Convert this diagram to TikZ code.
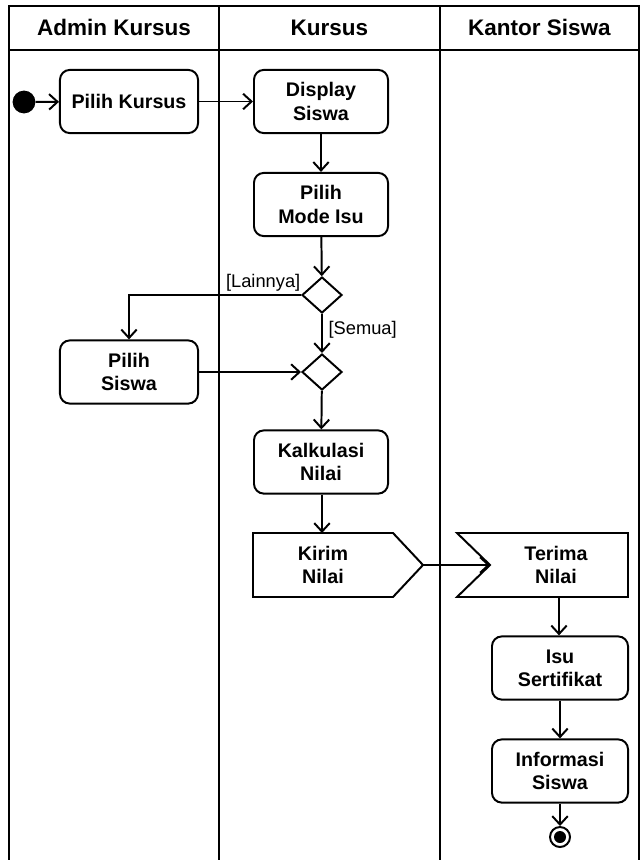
\documentclass[tikz,border=0pt]{standalone}
\usepackage{fontspec}
\setmainfont{Liberation Sans}
\usetikzlibrary{arrows.meta}
\usetikzlibrary{shapes.geometric}

\begin{document}
\begin{tikzpicture}[x=0.025cm, y=-0.025cm,
  lane/.style={line width=1.6pt},
  act/.style={draw, line width=1.4pt, rounded corners=7pt, align=center, minimum height=1.58cm,
    font=\fontsize{14}{16.5}\selectfont\bfseries},
  head/.style={font=\fontsize{16}{19}\selectfont\bfseries, anchor=base},
  guard/.style={font=\fontsize{13}{15}\selectfont, inner sep=2pt},
  choice/.style={draw, diamond, line width=1.4pt, minimum width=1cm, minimum height=0.9cm, inner sep=0pt},
  flow/.style={line width=1.4pt, -{Straight Barb[length=6pt, width=11pt]}}]
\useasboundingbox (0,0) rectangle (640,860);

% swimlanes
\draw[lane] (9,860) -- (9,6) -- (639,6) -- (639,860);
\draw[lane] (9,50) -- (639,50);
\draw[lane] (219,6) -- (219,860);
\draw[lane] (440,6) -- (440,860);
\node[head] (h1) at (114,36) {Admin Kursus};
\node[head] (h2) at (329.5,36) {Kursus};
\node[head] (h3) at (539.5,36) {Kantor Siswa};

\node[circle, fill, minimum size=0.57cm, inner sep=0pt] (start) at (24,102) {};
\node[act, minimum width=3.45cm] (pk) at (129,101.5) {Pilih Kursus};
\node[act, minimum width=3.35cm] (ds) at (321,101.5) {Display\\Siswa};
\node[act, minimum width=3.35cm] (pm) at (321,204.5) {Pilih\\Mode Isu};
\node[choice] (d1) at (322,295) {};
\node[choice] (d2) at (322,372) {};
\node[act, minimum width=3.45cm] (ps) at (129,372) {Pilih\\Siswa};
\node[act, minimum width=3.35cm] (kn) at (321,462) {Kalkulasi\\Nilai};

% send and accept signal
\draw[line width=1.4pt] (253,533) -- (393,533) -- (423,565) -- (393,597) -- (253,597) -- cycle;
\node[act, draw=none] (kirim) at (323,565) {Kirim\\Nilai};
\coordinate (kirimN) at (322,533);
\coordinate (kirimE) at (423,565);
\draw[line width=1.4pt] (457,533) -- (628,533) -- (628,597) -- (457,597) -- (490,565) -- cycle;
\node[act, draw=none] (terima) at (556,565) {Terima\\Nilai};
\coordinate (terimaW) at (490,565);
\coordinate (terimaS) at (559,597);

\node[act, minimum width=3.4cm] (is) at (560,668) {Isu\\Sertifikat};
\node[act, minimum width=3.4cm] (inf) at (560,771) {Informasi\\Siswa};
\node[draw, circle, line width=1.4pt, minimum size=0.5cm, inner sep=0pt,
  path picture={\fill (path picture bounding box.center) circle (0.15cm);}] (end) at (560,837) {};

\draw[flow] (start) -- (pk);
\draw[flow] (pk) -- (ds);
\draw[flow] (ds) -- (pm);
\draw[flow] (pm) -- (d1);
\draw[flow] (d1.west) -| node[guard, pos=0.11, above] {[Lainnya]} (ps.north);
\draw[flow] (d1) -- node[guard, pos=0.4, right, xshift=2pt] {[Semua]} (d2);
\draw[flow] (ps) -- (d2);
\draw[flow] (d2) -- (kn);
\draw[flow] (kn.south -| kirimN) -- (kirimN);
\draw[flow] (kirimE) -- (terimaW);
\draw[flow] (terimaS) -- (is.north -| terimaS);
\draw[flow] (is) -- (inf);
\draw[flow] (inf) -- (end);
\end{tikzpicture}
\end{document}
